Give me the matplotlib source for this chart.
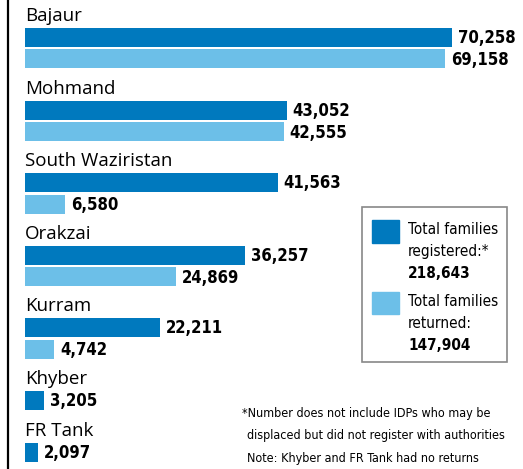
import matplotlib.pyplot as plt
from matplotlib.patches import Rectangle

# data
regions = ["Bajaur", "Mohmand", "South Waziristan", "Orakzai", "Kurram", "Khyber", "FR Tank"]
registered = [70258, 43052, 41563, 36257, 22211, 3205, 2097]
returned = [69158, 42555, 6580, 24869, 4742, None, None]
total_registered = "218,643"
total_returned = "147,904"
note1 = "*Number does not include IDPs who may be"
note2 = "displaced but did not register with authorities"
note3 = "Note: Khyber and FR Tank had no returns"

dark = "#0079be"
light = "#6cbfe8"
label_font = ["Open Sans", "DejaVu Sans"]
narrow = dict(family="DejaVu Sans", stretch="condensed")

W, H = 523, 469
fig = plt.figure(figsize=(W / 100, H / 100), dpi=100)
ax = fig.add_axes([0, 0, 1, 1])
# x axis in data units: 0 at pixel 25, 70258 at pixel 452
scale = 70258 / 427
ax.set_xlim(-25 * scale, (W - 25) * scale)
ax.set_ylim(H, 0)
ax.axis("off")

# left rule
ax.plot([-17 * scale, -17 * scale], [0, H], color="black", lw=1.6)

bases = [16 + 72.6 * i for i in range(6)] + [431]
bar_h = 19
for name, reg, ret, base in zip(regions, registered, returned, bases):
    ax.text(0, base, name, fontsize=13.5, family=label_font, va="center", ha="left")
    ax.barh(base + 21.5, reg, height=bar_h, color=dark)
    ax.text(reg + 6 * scale, base + 22, f"{reg:,}", fontsize=12, **narrow,
            weight="heavy", va="center", ha="left")
    if ret is not None:
        ax.barh(base + 43, ret, height=bar_h, color=light)
        ax.text(ret + 6 * scale, base + 44, f"{ret:,}", fontsize=12, **narrow,
                weight="heavy", va="center", ha="left")

# legend box (pixel coordinates via axes fraction)
def px(x, y):
    return x / W, 1 - y / H

tr = ax.transAxes
ax.add_patch(Rectangle(px(362, 362), 145 / W, 155 / H, transform=tr,
                       facecolor="white", edgecolor="#888888", lw=1.2))
ax.add_patch(Rectangle(px(372, 243), 27 / W, 23 / H, transform=tr, color=dark))
ax.add_patch(Rectangle(px(372, 314), 27 / W, 22 / H, transform=tr, color=light))
for txt, y, w in [("Total families", 229, "normal"), ("registered:*", 251, "normal"),
                  (total_registered, 273, "bold"), ("Total families", 301, "normal"),
                  ("returned:", 323, "normal"), (total_returned, 345, "bold")]:
    ax.text(*px(408, y), txt, transform=tr, fontsize=11, **narrow,
            weight=w, va="center", ha="left")

ax.text(*px(242, 413), note1, transform=tr, fontsize=9, **narrow, va="center")
ax.text(*px(247, 435), note2, transform=tr, fontsize=9, **narrow, va="center")
ax.text(*px(247, 458), note3, transform=tr, fontsize=9, **narrow, va="center")

fig.savefig("out.png", dpi=100)
